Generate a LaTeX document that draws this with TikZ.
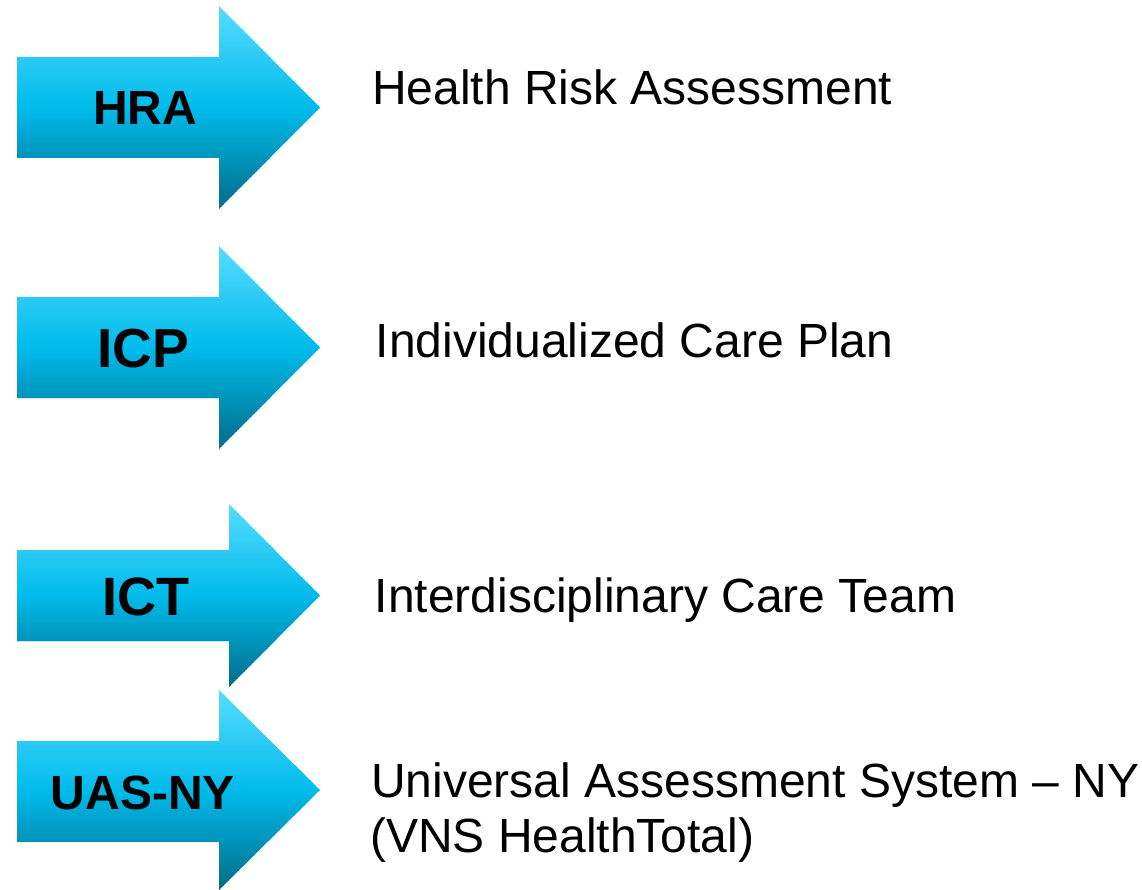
\documentclass[tikz,border=0pt]{standalone}
\usepackage{fontspec}
\setmainfont{Liberation Sans}
\begin{document}
\begin{tikzpicture}[x=1pt,y=1pt,
  tag/.style={font=\bfseries\fontsize{#1}{#1}\selectfont,inner sep=0pt,anchor=base},
  desc/.style={font=\fontsize{48}{55}\selectfont,inner sep=0pt,anchor=base west}]
\definecolor{arrowtop}{RGB}{88,220,255}
\definecolor{arrowmid}{RGB}{0,187,235}
\definecolor{arrowbot}{RGB}{0,108,138}
\useasboundingbox (0,0) rectangle (1142,-890);

% block arrows: body top, body bottom, head base x, head top, head bottom, tip y
% (measured downward from the top edge); filled with a vertical gradient
% built from thin horizontal strips clipped to the arrow outline
\foreach \ya/\yb/\xh/\yc/\yd/\ye in {57/158/219/6/209/107.5,
                                      297/398/219/246/449/347.5,
                                      550/641/229/504/687/595.5,
                                      741/842/219/690/890/790}{
  \begin{scope}
    \clip (17,-\ya) -- (\xh,-\ya) -- (\xh,-\yc) -- (320,-\ye)
        -- (\xh,-\yd) -- (\xh,-\yb) -- (17,-\yb) -- cycle;
    \foreach \k in {0,...,79}{
      \pgfmathsetmacro\ytop{\yc+(\yd-\yc)*\k/80}
      \pgfmathsetmacro\ybot{\yc+(\yd-\yc)*(\k+1)/80+0.8}
      \ifnum\k<40
        \pgfmathtruncatemacro\pa{(\k+0.5)*100/40}
        \colorlet{strip}{arrowmid!\pa!arrowtop}
      \else
        \pgfmathtruncatemacro\pa{(\k-39.5)*100/40}
        \colorlet{strip}{arrowbot!\pa!arrowmid}
      \fi
      \fill[strip] (17,-\ytop) rectangle (320,-\ybot);
    }
  \end{scope}
}

% labels on the arrows
\node[tag=48] (hra) at (145,-125) {HRA};
\node[tag=55] (icp) at (143,-367) {ICP};
\node[tag=54] (ict) at (146,-615) {ICT};
\node[tag=48] (uas) at (143,-809) {UAS-NY};

% descriptions
\node[desc] (hradesc) at (372,-105) {Health Risk Assessment};
\node[desc] (icpdesc) at (375.5,-357.5) {Individualized Care Plan};
\node[desc] (ictdesc) at (374.5,-612.5) {Interdisciplinary Care Team};
\node[desc] (uasdesc) at (371,-797) {Universal Assessment System – NY};
\node[desc] (uasdesc2) at (370,-852) {(VNS HealthTotal)};
\end{tikzpicture}
\end{document}
